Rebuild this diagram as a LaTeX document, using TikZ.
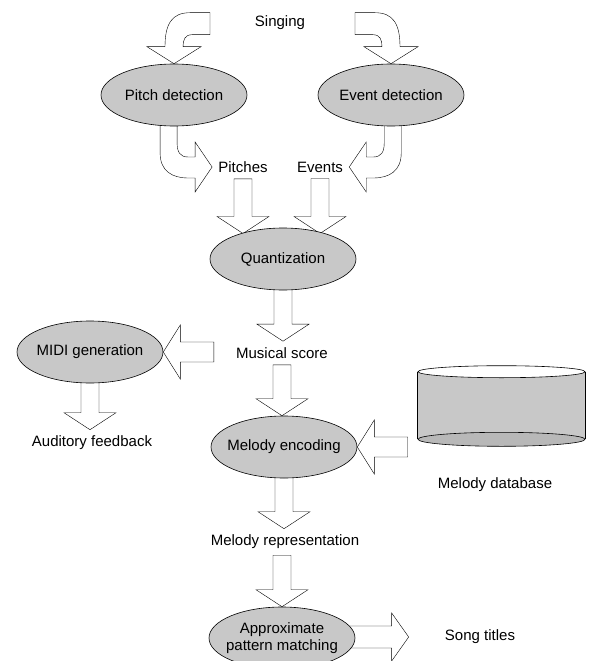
\documentclass[tikz,border=0pt]{standalone}
\usepackage{fontspec}
\setmainfont{Liberation Sans}
\usetikzlibrary{shapes.geometric,calc,backgrounds}

\definecolor{procgray}{RGB}{200,200,200}
\definecolor{basegray}{RGB}{184,184,184}

% block arrows: start point, tip point
\newcommand{\downblk}[2]{%
  \draw[blk] let \p1=(#1), \p2=(#2) in
    (\x1-9pt,\y1) -- (\x1-9pt,\y2+17pt) -- (\x1-26pt,\y2+17pt) -- (\x1,\y2)
    -- (\x1+26pt,\y2+17pt) -- (\x1+9pt,\y2+17pt) -- (\x1+9pt,\y1) -- cycle;}
\newcommand{\leftblk}[2]{%
  \draw[blk] let \p1=(#1), \p2=(#2) in
    (\x1,\y2+10pt) -- (\x2+17pt,\y2+10pt) -- (\x2+17pt,\y2+27pt) -- (\x2,\y2)
    -- (\x2+17pt,\y2-27pt) -- (\x2+17pt,\y2-10pt) -- (\x1,\y2-10pt) -- cycle;}
\newcommand{\rightblk}[2]{%
  \draw[blk] let \p1=(#1), \p2=(#2) in
    (\x1,\y2+11pt) -- (\x2-17pt,\y2+11pt) -- (\x2-17pt,\y2+24pt) -- (\x2,\y2)
    -- (\x2-17pt,\y2-24pt) -- (\x2-17pt,\y2-11pt) -- (\x1,\y2-11pt) -- cycle;}

\begin{document}
\begin{tikzpicture}[x=1pt, y=-1pt, line width=0.6pt,
    font=\fontsize{15}{17}\selectfont,
    proc/.style={draw, ellipse, fill=procgray, minimum width=146pt, minimum height=62pt,
      inner xsep=-8pt, inner ysep=0pt, align=center},
    lbl/.style={inner sep=6pt},
    blk/.style={draw, fill=white, line join=miter}]

  \useasboundingbox (0,0) rectangle (594,661);
  \clip (0,0) rectangle (594,661);

  \node[lbl] (singing) at (280,23) {Singing};
  \node[proc] (pitch) at (174,95) {Pitch detection};
  \node[proc] (event) at (391,95) {Event detection};
  \node[lbl] (pitches) at (243,167) {Pitches};
  \node[lbl] (events) at (320,167) {Events};
  \node[proc] (quant) at (283,259) {Quantization};
  \node[lbl] (score) at (282,353) {Musical score};
  \node[proc] (midi) at (90,352) {MIDI generation};
  \node[lbl] (audit) at (92,443) {Auditory feedback};
  \node[proc] (enc) at (284,447) {Melody encoding};
  \node[lbl] (rep) at (285,542) {Melody representation};
  \node[proc] (approx) at (282,638) {Approximate\\pattern matching};
  \node[lbl] (songs) at (480,637) {Song titles};

  % database
  \node[minimum width=167pt, minimum height=67pt, inner sep=0pt] (db) at (501.5,405.5) {};
  \fill[procgray] (db.north west) rectangle (db.south east);
  \draw (db.north west) -- (db.south west);
  \draw (db.north east) -- (db.south east);
  \filldraw[fill=basegray] (db.south) ellipse (83.5pt and 7pt);
  \filldraw[fill=white] (db.north) ellipse (83.5pt and 6pt);
  \node[lbl] (dbname) at (495,485) {Melody database};

  \begin{scope}[on background layer]
    % curved arrows
    \draw[blk, shift={(pitch.north)}] (0,0) -- (-27,-17) -- (-9,-17)
      .. controls (-9,-40) and (-2,-51) .. (16,-51) -- (36,-51) -- (36,-29) -- (18,-29)
      .. controls (11,-29) and (9,-24) .. (9,-17) -- (27,-17) -- cycle;
    \draw[blk, shift={(event.north)}] (0,0) -- (27,-17) -- (9,-17)
      .. controls (9,-40) and (2,-51) .. (-16,-51) -- (-36,-51) -- (-36,-29) -- (-18,-29)
      .. controls (-11,-29) and (-9,-24) .. (-9,-17) -- (-27,-17) -- cycle;
    \draw[blk, shift={(pitches.west)}] (0,0) -- (-17,-25) -- (-17,-10) -- (-24,-10)
      .. controls (-32,-10) and (-35,-15) .. (-35,-24) -- (-35,-50) -- (-52,-50) -- (-52,-14)
      .. controls (-52,4) and (-40,11) .. (-24,11) -- (-17,11) -- (-17,25) -- cycle;
    \draw[blk, shift={(events.east)}] (0,0) -- (17,-25) -- (17,-10) -- (24,-10)
      .. controls (32,-10) and (35,-15) .. (35,-24) -- (35,-50) -- (52,-50) -- (52,-14)
      .. controls (52,4) and (40,11) .. (24,11) -- (17,11) -- (17,25) -- cycle;

    % straight arrows
    \downblk{pitches.south}{quant.149}
    \downblk{events.south}{quant.31}
    \downblk{quant.center}{score.north}
    \leftblk{[xshift=-16pt]score.west}{midi.east}
    \downblk{midi.center}{audit.north}
    \downblk{score.south}{enc.north}
    \leftblk{[xshift=-10pt]db.west}{enc.east}
    \downblk{enc.center}{rep.north}
    \downblk{rep.south -| approx.north}{approx.north}
    \rightblk{approx.center}{[xshift=-30pt]songs.west}
  \end{scope}
\end{tikzpicture}
\end{document}
